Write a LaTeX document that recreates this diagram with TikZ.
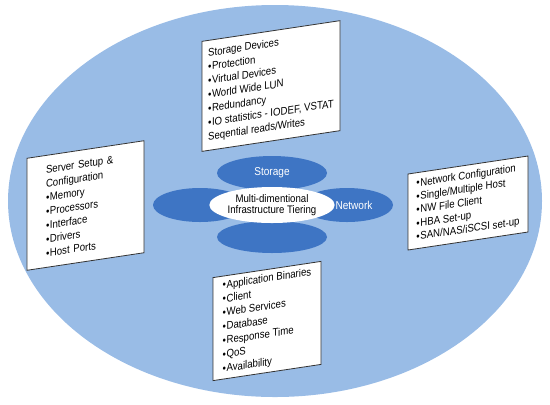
\documentclass[tikz,border=0pt]{standalone}
\usepackage{fontspec}
\setmainfont{Liberation Sans}[FakeStretch=0.88]
\usetikzlibrary{shapes.geometric}

\definecolor{skyfill}{RGB}{153,188,230}
\definecolor{petalblue}{RGB}{62,117,196}

\newcommand{\bul}{\textbullet\kern0.5pt}

\begin{document}
\begin{tikzpicture}[x=1bp,y=-1bp,
	every node/.style={black},
	box/.style={draw=black!80,line width=0.8bp,fill=white,yslant=0.15,
		align=left,inner sep=0pt,font=\fontsize{11}{14}\selectfont},
	petal/.style={ellipse,fill=petalblue,inner sep=0pt},
	petaltxt/.style={text=white,font=\fontsize{11.5}{12}\selectfont}]
	\useasboundingbox (0,0) rectangle (550,404);

	\coordinate (O) at (275,201);
	\fill[skyfill] (O) ellipse [x radius=267, y radius=196];

	\node[box,minimum width=138bp,minimum height=110bp] (storbox) at (271,86)
		{Storage Devices\\ \bul Protection\\ \bul Virtual Devices\\ \bul World Wide LUN\\
		 \bul Redundancy\\ \bul IO statistics - IODEF, VSTAT\\ Seqential reads/Writes};
	\node[box,minimum width=117bp,minimum height=112bp,text width=79bp] (servbox) at (85.5,205.5)
		{Server Setup \&\\ Configuration\\ \bul Memory\\ \bul Processors\\
		 \bul Interface\\ \bul Drivers\\ \bul Host Ports};
	\node[box,minimum width=120bp,minimum height=76bp,font=\fontsize{11}{13.5}\selectfont] (netbox) at (468,203)
		{\bul Network Configuration\\ \bul Single/Multiple Host\\ \bul NW File Client\\
		 \bul HBA Set-up\\ \bul SAN/NAS/iSCSI set-up};
	\node[box,minimum width=108bp,minimum height=103bp] (appbox) at (267,321)
		{\bul Application Binaries\\ \bul Client\\ \bul Web Services\\ \bul Database\\
		 \bul Response Time\\ \bul QoS\\ \bul Availability};

	\node[petal,minimum width=94bp,minimum height=34bp] (west) at (200,205) {};
	\node[petal,minimum width=92bp,minimum height=34bp] (net) at (347,205) {};
	\node[petal,minimum width=110bp,minimum height=34bp,petaltxt] (stor) at (272,173) {Storage};
	\node[petal,minimum width=110bp,minimum height=32bp] (south) at (272,237) {};
	\node[petaltxt] (netlbl) at ([xshift=7bp]net.center) {Network};

	\node[ellipse,fill=white,inner sep=0pt,minimum width=107bp,minimum height=36bp,
		align=center,font=\fontsize{11}{11.5}\selectfont] (core) at (272,205)
		{Multi-dimentional\\ Infrastructure Tiering};
\end{tikzpicture}
\end{document}
